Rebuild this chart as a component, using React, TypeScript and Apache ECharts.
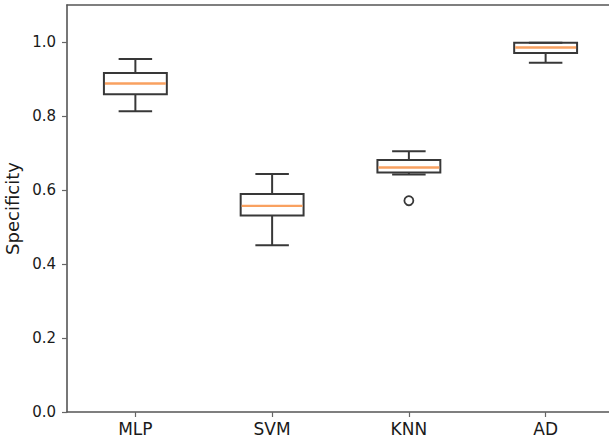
import React, { useEffect, useRef } from "react";
import * as echarts from "echarts";

const categories = ["MLP", "SVM", "KNN", "AD"];
const whiskerLow = [0.813, 0.451, 0.642, 0.944];
const q1 = [0.859, 0.531, 0.647, 0.970];
const median = [0.888, 0.557, 0.661, 0.985];
const q3 = [0.916, 0.589, 0.681, 0.998];
const whiskerHigh = [0.954, 0.643, 0.705, 0.998];
const outlierCategory = ["KNN"];
const outlierValue = [0.571];

const yTicks = [0, 0.2, 0.4, 0.6, 0.8, 1.0];

export default function App() {
  const ref = useRef<HTMLDivElement>(null);
  useEffect(() => {
    document.body.style.margin = "0";
    document.body.style.overflow = "hidden";
    if (!ref.current) return;
    const chart = echarts.init(ref.current, null, { renderer: "svg" });
    const boxData = categories.map((_, i) => [i, whiskerLow[i], q1[i], median[i], q3[i], whiskerHigh[i]]);
    const lineColor = "#383838";
    const medColor = "#f9a160";
    const spine = { show: true, lineStyle: { color: "#555", width: 1.6 } };
    chart.setOption({
      animation: false,
      grid: {
        left: 67,
        top: 5,
        width: 547,
        height: 407,
        outerBoundsMode: "none",
        containLabel: false,
        show: false,
      },
      xAxis: [
        {
          type: "category",
          data: categories,
          boundaryGap: true,
          axisLine: spine,
          axisTick: { show: true, alignWithLabel: true, length: 5, lineStyle: { color: "#666", width: 1.2 } },
          axisLabel: { color: "#1a1a1a", fontSize: 17, fontFamily: "DejaVu Sans", margin: 8 },
          splitLine: { show: false },
        },
        {
          type: "category",
          position: "top",
          data: categories,
          axisLine: spine,
          axisTick: { show: false },
          axisLabel: { show: false },
          splitLine: { show: false },
        },
      ],
      yAxis: {
        type: "value",
        min: 0,
        max: 1.1,
        interval: 0.2,
        name: "Specificity",
        nameLocation: "middle",
        nameGap: 41,
        nameTextStyle: { color: "#1a1a1a", fontSize: 18, fontFamily: "DejaVu Sans" },
        axisLine: spine,
        axisTick: { show: true, length: 5, lineStyle: { color: "#666", width: 1.2 } },
        axisLabel: {
          color: "#1a1a1a",
          fontSize: 15,
          fontFamily: "DejaVu Sans",
          margin: 11,
          showMaxLabel: false,
          formatter: (v: number) => (yTicks.some((t) => Math.abs(t - v) < 1e-6) ? v.toFixed(1) : ""),
        },
        splitLine: { show: false },
      },
      series: [
        {
          type: "custom",
          data: boxData,
          encode: { x: 0, y: [1, 2, 3, 4, 5] },
          renderItem: (params: any, api: any) => {
            const idx = api.value(0);
            const band = api.size([1, 0])[0];
            const pLow = api.coord([idx, api.value(1)]);
            const pQ1 = api.coord([idx, api.value(2)]);
            const pMed = api.coord([idx, api.value(3)]);
            const pQ3 = api.coord([idx, api.value(4)]);
            const pHigh = api.coord([idx, api.value(5)]);
            const x = pLow[0];
            const bw = band * 0.46;
            const cw = band * 0.245;
            const ls = { stroke: lineColor, lineWidth: 2, fill: "none" };
            return {
              type: "group",
              children: [
                { type: "line", shape: { x1: x, y1: pQ3[1], x2: x, y2: pHigh[1] }, style: ls },
                { type: "line", shape: { x1: x, y1: pQ1[1], x2: x, y2: pLow[1] }, style: ls },
                { type: "line", shape: { x1: x - cw / 2, y1: pHigh[1], x2: x + cw / 2, y2: pHigh[1] }, style: ls },
                { type: "line", shape: { x1: x - cw / 2, y1: pLow[1], x2: x + cw / 2, y2: pLow[1] }, style: ls },
                {
                  type: "rect",
                  shape: { x: x - bw / 2, y: pQ3[1], width: bw, height: pQ1[1] - pQ3[1] },
                  style: { stroke: lineColor, lineWidth: 2, fill: "rgba(255,255,255,0)" },
                },
                {
                  type: "line",
                  shape: { x1: x - bw / 2 + 1, y1: pMed[1], x2: x + bw / 2 - 1, y2: pMed[1] },
                  style: { stroke: medColor, lineWidth: 2.4 },
                },
              ],
            };
          },
          z: 3,
        },
        {
          type: "scatter",
          data: outlierCategory.map((c, i) => [categories.indexOf(c), outlierValue[i]]),
          symbol: "circle",
          symbolSize: 9,
          itemStyle: { color: "#ffffff", borderColor: lineColor, borderWidth: 1.8, opacity: 1 },
          z: 4,
        },
      ],
    });
    return () => chart.dispose();
  }, []);
  return (
    <div
      ref={ref}
      style={{ width: 609, height: 447, position: "fixed", left: 0, top: 0, overflow: "hidden", background: "#fff" }}
    />
  );
}
